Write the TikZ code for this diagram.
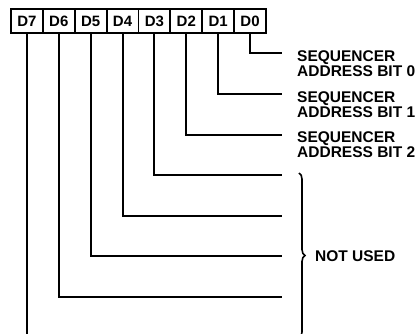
\documentclass[tikz,border=0pt]{standalone}
\usepackage{fontspec}
\setmainfont{Liberation Sans}
\usetikzlibrary{decorations.pathreplacing}
\begin{document}
\begin{tikzpicture}[x=1pt,y=-1pt,
  bitbox/.style={draw,line width=1.8pt,minimum width=31.875pt,minimum height=24pt,inner sep=0pt,
    font=\fontsize{15}{15}\selectfont\bfseries},
  wire/.style={line width=2pt},
  lbl/.style={anchor=north west,inner sep=0pt,align=left,
    font=\fontsize{15.5}{15}\selectfont\bfseries}]
\useasboundingbox (0,0) rectangle (418,334);
\foreach \i in {0,...,7}{
  \node[bitbox] (b\i) at ({11+31.875*(7-\i)+15.9375},21) {D\i};
}
\coordinate (e0) at (282,53);
\coordinate (e1) at (282,94);
\coordinate (e2) at (282,135);
\coordinate (e3) at (282,175);
\coordinate (e4) at (282,216);
\coordinate (e5) at (282,256);
\coordinate (e6) at (282,297);
\foreach \i in {0,...,6}{
  \draw[wire] (b\i.south) |- (e\i);
}
\coordinate (e7) at (b7.south |- 0,334);
\draw[wire] (b7.south) -- (e7);
\node[lbl] (l0) at (297,50) {SEQUENCER\\ADDRESS BIT 0};
\node[lbl] (l1) at (297,91) {SEQUENCER\\ADDRESS BIT 1};
\node[lbl] (l2) at (297,131) {SEQUENCER\\ADDRESS BIT 2};
\coordinate (bt) at (299,173);
\coordinate (bb) at (299,338);
\draw[line width=1.6pt,decorate,decoration={brace,amplitude=6pt}] (bt) -- (bb);
\node[anchor=west,inner sep=0pt,font=\fontsize{15.5}{15}\selectfont\bfseries] (nu) at (315,256) {NOT USED};
\end{tikzpicture}
\end{document}
